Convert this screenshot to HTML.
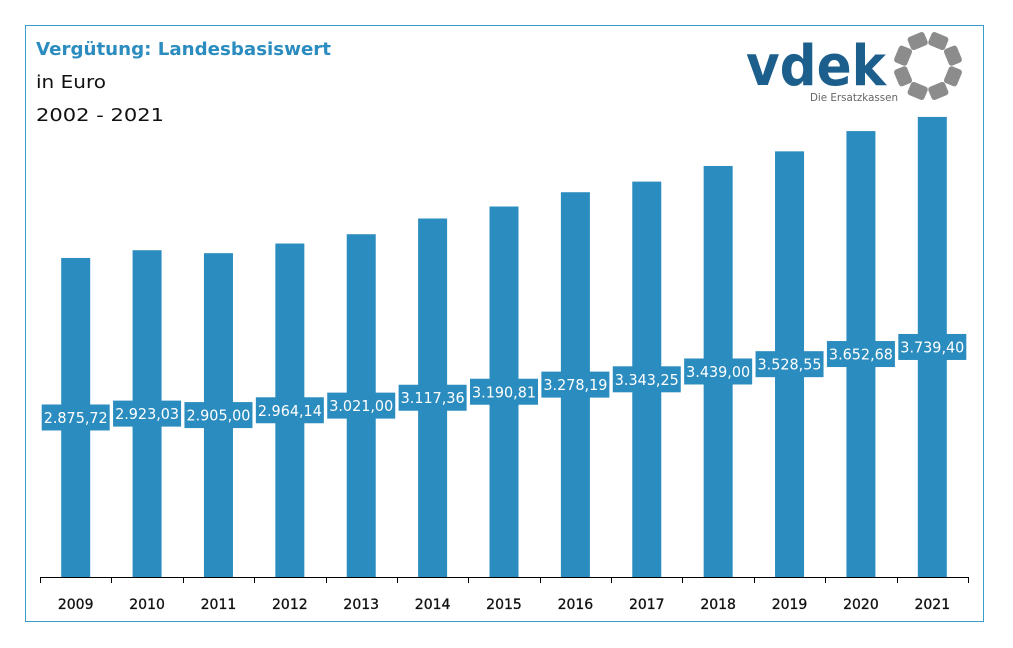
<!DOCTYPE html>
<html><head><meta charset="utf-8"><style>
html,body{margin:0;padding:0;background:#fff;}
svg{display:block;font-family:"DejaVu Sans","Liberation Sans",sans-serif;}
</style></head><body>
<svg id="chart" width="1013" height="648" viewBox="0 0 1013 648" xmlns="http://www.w3.org/2000/svg">
<rect x="25.5" y="25.5" width="958" height="596" fill="#fff" stroke="#3a9cc8" stroke-width="1"/>
<text x="36" y="55" font-size="18" font-weight="bold" fill="#2b8cbf" textLength="295" lengthAdjust="spacingAndGlyphs">Vergütung: Landesbasiswert</text>
<text x="36" y="88" font-size="18" fill="#111" textLength="70" lengthAdjust="spacingAndGlyphs">in Euro</text>
<text x="36" y="121" font-size="18" fill="#111" textLength="128" lengthAdjust="spacingAndGlyphs">2002 - 2021</text>
<g>
<text x="746" y="85" font-size="56" font-weight="bold" fill="#1c5f8c" textLength="140" lengthAdjust="spacingAndGlyphs">vdek</text>
<text x="810" y="101" font-size="11" fill="#666" textLength="88" lengthAdjust="spacingAndGlyphs">Die Ersatzkassen</text>
<g id="ring"></g>
</g>
<g id="bars"></g>
<g id="axis"></g>
</svg>
<script>
const categories=["2009","2010","2011","2012","2013","2014","2015","2016","2017","2018","2019","2020","2021"];
const values=[2875.72,2923.03,2905.00,2964.14,3021.00,3117.36,3190.81,3278.19,3343.25,3439.00,3528.55,3652.68,3739.40];
const valueLabels=["2.875,72","2.923,03","2.905,00","2.964,14","3.021,00","3.117,36","3.190,81","3.278,19","3.343,25","3.439,00","3.528,55","3.652,68","3.739,40"];
const NS="http://www.w3.org/2000/svg";
const x0=40,x1=968,baseY=577,yMin=922,pxPerUnit=0.1633;
const step=(x1-x0)/categories.length;
const xc=i=>x0+step*(i+0.5);
const y=v=>baseY-(v-yMin)*pxPerUnit;
function mk(t,a,p){const e=document.createElementNS(NS,t);for(const k in a)e.setAttribute(k,a[k]);p.appendChild(e);return e;}
const bars=document.getElementById('bars'),axis=document.getElementById('axis');
categories.forEach((c,i)=>{
  const top=y(values[i]);
  const b=mk('rect',{x:xc(i)-14.5,y:top,width:29,height:baseY-top,fill:'#2b8cbf'},bars);
  
  
  const mid=(top+baseY)/2;
  const bx=mk('rect',{x:xc(i)-34,y:mid-13,width:68,height:26,fill:'#2b8cbf'},bars);
  
  
  const t=mk('text',{x:xc(i),y:mid+5.5,'text-anchor':'middle','font-size':15,fill:'#fff',textLength:64,lengthAdjust:'spacingAndGlyphs'},bars);
  t.textContent=valueLabels[i];
  
  
  const l=mk('text',{x:xc(i),y:609,'text-anchor':'middle','font-size':14,fill:'#111',stroke:'#111','stroke-width':0.3},axis);
  l.textContent=c;
  
  
});
const al=mk('line',{x1:x0,x2:x1,y1:baseY+0.5,y2:baseY+0.5,stroke:'#000','stroke-width':1},axis);


for(let i=0;i<=categories.length;i++){
  const tx=Math.round(x0+step*i)+0.5;
  const tk=mk('line',{x1:tx,x2:tx,y1:baseY,y2:baseY+6,stroke:'#000','stroke-width':1},axis);
  
  
}
const ring=document.getElementById('ring');
for(let k=0;k<8;k++){
  const a=k*Math.PI/4+Math.PI/8;
  const cx=928+27*Math.cos(a),cy=66+27*Math.sin(a);
  const s=mk('rect',{x:cx-9,y:cy-7,width:18,height:14,rx:3,fill:'#8c8c8c',transform:`rotate(${a*180/Math.PI+90} ${cx} ${cy})`},ring);
  
  
}
</script>
</body></html>
